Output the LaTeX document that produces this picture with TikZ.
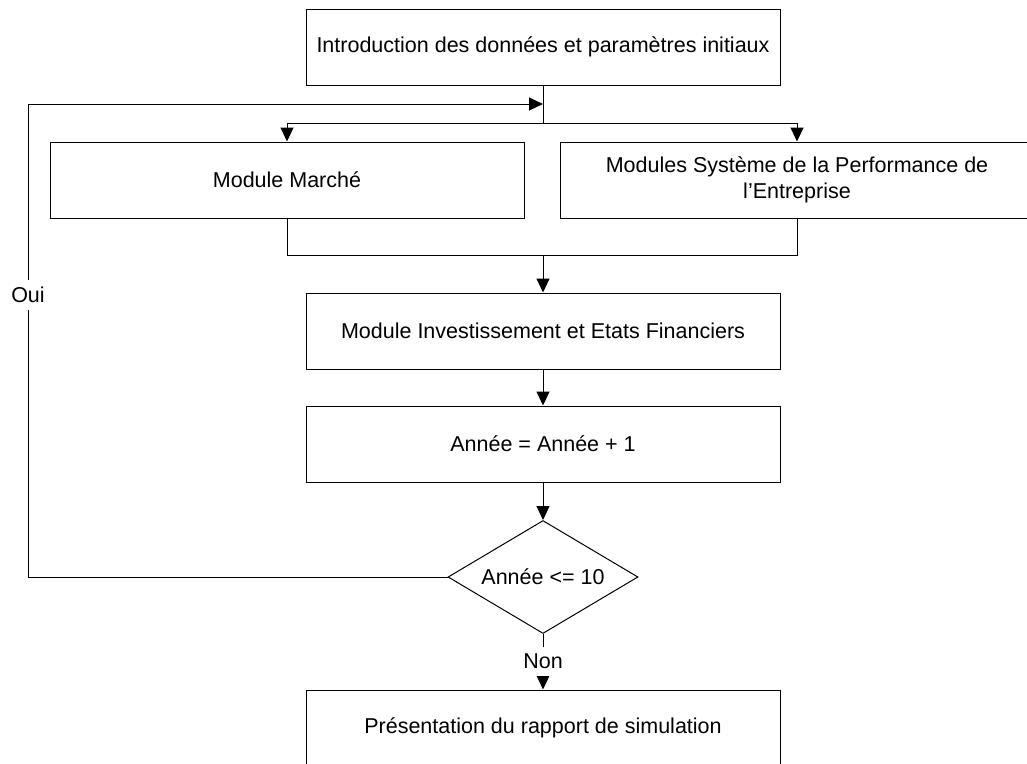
\documentclass[tikz,border=0pt]{standalone}
\usepackage{fontspec}
\setmainfont{Liberation Sans}
\usetikzlibrary{arrows.meta,shapes.geometric}
\begin{document}
\begin{tikzpicture}[x=1pt,y=-1pt,
  line width=1pt,
  txt/.style={font=\fontsize{21.5}{26}\selectfont},
  box/.style={draw,txt,minimum width=474pt,minimum height=76pt,inner sep=0pt,align=center},
  decision/.style={draw,txt,diamond,aspect=1.68,minimum width=190pt,minimum height=113pt,
    inner sep=0pt},
  arr/.style={-{Triangle[length=14pt,width=13pt]}},
  lbl/.style={txt,fill=white,inner xsep=1pt,inner ysep=7pt}]
  \useasboundingbox (0,0) rectangle (1027,763);

  % process boxes
  \node[box] (init) at (543,47) {Introduction des données et paramètres initiaux};
  \node[box] (market) at (287,180) {Module Marché};
  \node[box] (perf) at (797,180) {Modules Système de la Performance de\\l’Entreprise};
  \node[box] (invest) at (543,331) {Module Investissement et Etats Financiers};
  \node[box] (year) at (543,444) {Année = Année + 1};
  \node[decision] (test) at (543,577) {Année <= 10};
  \node[box] (report) at (543,728) {Présentation du rapport de simulation};

  % junction points
  \coordinate (split) at (543,123);
  \coordinate (merge) at (543,255);
  \coordinate (loopL) at (28,577);
  \coordinate (loopT) at (28,104);
  \coordinate (loopR) at (543,104);

  % fan-out to the two modules
  \draw (init.south) -- (split);
  \draw[arr] (split) -| (market.north);
  \draw[arr] (split) -| (perf.north);

  % fan-in to the investment module
  \draw (market.south) |- (merge);
  \draw (perf.south) |- (merge);
  \draw[arr] (merge) -- (invest.north);

  \draw[arr] (invest.south) -- (year.north);
  \draw[arr] (year.south) -- (test.north);

  % loop back while the year count is not reached
  \draw[arr] (test.west) -- (loopL) -- node[lbl,pos=0.596]{Oui} (loopT) -- (loopR);

  % exit to the final report
  \draw[arr] (test.south) -- node[lbl,pos=0.49]{Non} (report.north);
\end{tikzpicture}
\end{document}
